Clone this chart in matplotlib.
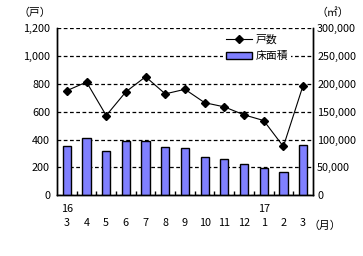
import matplotlib.pyplot as plt
from matplotlib.lines import Line2D
from matplotlib.patches import Patch
from matplotlib.ticker import FuncFormatter

plt.rcParams['font.family'] = ['Noto Sans CJK JP', 'DejaVu Sans']

# -----------------------------------------------------------------------------
# data
# -----------------------------------------------------------------------------
months = ["3", "4", "5", "6", "7", "8", "9", "10", "11", "12", "1", "2", "3"]
years = ["16", "", "", "", "", "", "", "", "", "", "17", "", ""]
units = [750, 812, 572, 742, 850, 727, 760, 664, 634, 577, 536, 350, 787]        # 戸数
floor_area = [88500, 103000, 79500, 97000, 97000, 86800, 84500, 68200,
              64700, 56200, 48500, 41800, 90300]                                  # 床面積 (㎡)

x = list(range(len(months)))
fs = 7.8

fig = plt.figure(figsize=(3.63, 2.56), dpi=100)
ax = fig.add_axes([0.157, 0.237, 0.705, 0.654])
ax2 = ax.twinx()

# bars on the right axis, line on the left axis drawn on top
ax2.bar(x, floor_area, width=0.42, color="#8080FF", edgecolor="black", linewidth=1.0, zorder=3)
ax2.set_ylim(0, 300000)
ax2.set_yticks(range(0, 300001, 50000))
ax2.yaxis.set_major_formatter(FuncFormatter(lambda v, p: f"{int(v):,}"))
ax2.grid(axis="y", color="black", linestyle=(0, (3, 2)), linewidth=0.9)
ax2.set_axisbelow(True)

ax.set_zorder(ax2.get_zorder() + 1)
ax.patch.set_visible(False)
ax.plot(x, units, color="black", linewidth=0.8, marker="D", markersize=3.6, zorder=5)
ax.set_ylim(0, 1200)
ax.set_yticks(range(0, 1201, 200))
ax.yaxis.set_major_formatter(FuncFormatter(lambda v, p: f"{int(v):,}"))
ax.set_xlim(-0.5, len(months) - 0.5)

# x ticks: month with year above where the year changes
ax.set_xticks(x)
ax.set_xticklabels([f"{y}\n{m}" for y, m in zip(years, months)], linespacing=1.5)
ax.set_xticks([i + 0.5 for i in x[:-1]], minor=True)
ax.tick_params(axis="x", which="major", length=0, pad=6, labelsize=fs)
ax.tick_params(axis="x", which="minor", direction="in", length=3, width=1)
ax.tick_params(axis="y", length=0, pad=5, labelsize=fs)
ax2.tick_params(axis="y", length=0, pad=3, labelsize=fs)

for a in (ax, ax2):
    a.spines["top"].set_visible(False)
    for s in ("left", "right", "bottom"):
        a.spines[s].set_linewidth(1.0)

fig.text(0.097, 0.95, "（戸）", fontsize=fs, ha="center", va="center")
fig.text(0.917, 0.95, "（㎡）", fontsize=fs, ha="center", va="center")
fig.text(0.895, 0.118, "（月）", fontsize=fs, ha="center", va="center")

handles = [Line2D([], [], color="black", linewidth=0.8, marker="D", markersize=3.6),
           Patch(facecolor="#8080FF", edgecolor="black", linewidth=1.0)]
leg = ax.legend(handles, ["戸数", "床面積"], loc="upper left", bbox_to_anchor=(0.635, 1.0),
                fontsize=fs, frameon=True, framealpha=1, edgecolor="none",
                handlelength=2.4, handleheight=0.55, labelspacing=0.6,
                borderpad=0.3, handletextpad=0.3, borderaxespad=0.3)
leg.get_frame().set_linewidth(0)

fig.savefig("out.png", dpi=100)
